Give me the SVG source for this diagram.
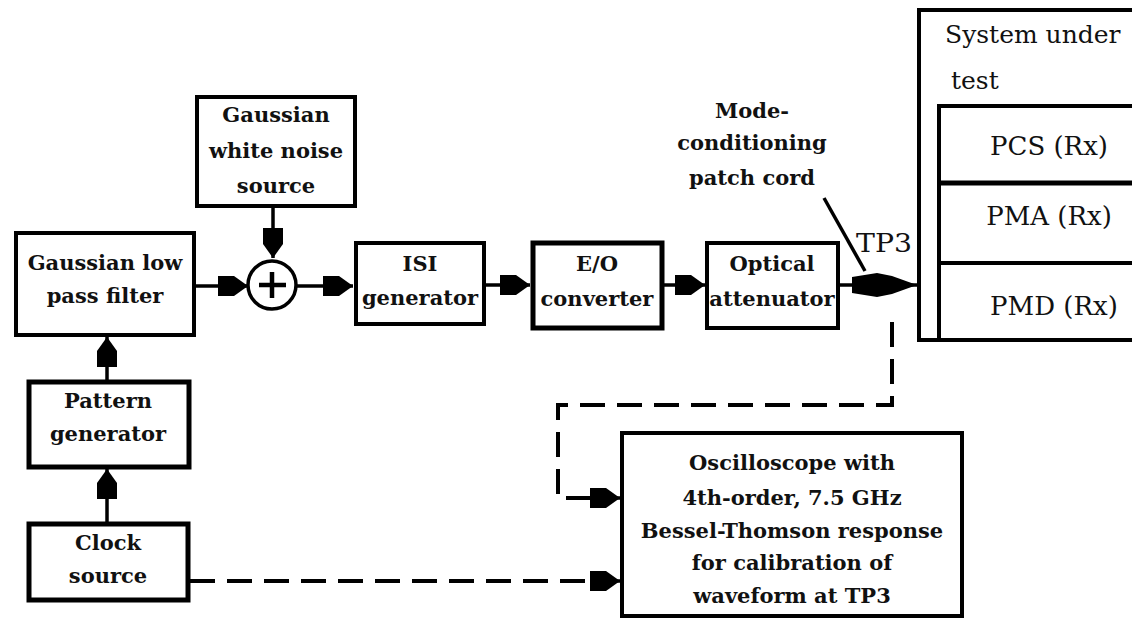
<svg xmlns="http://www.w3.org/2000/svg" width="1132" height="618" viewBox="0 0 1132 618">
<style>
.box{fill:#fff;stroke:#000;stroke-width:4}
.thick{stroke-width:5}
.lbl{font-family:'DejaVu Serif',serif;font-weight:bold;font-size:21px;fill:#111;text-anchor:middle}
.reg{font-family:'DejaVu Serif',serif;font-size:26px;fill:#111}
.sm{font-size:25px}
.ln{fill:none;stroke:#000;stroke-width:3.5}
.dash{fill:none;stroke:#000;stroke-width:4;stroke-dasharray:25 12}
</style>
<defs>
<marker id="ah" markerUnits="userSpaceOnUse" markerWidth="34" markerHeight="24" viewBox="-31 -12 34 24" refX="0" refY="0" orient="auto">
<path d="M-30,-10 L-14,-10 L0,0 L-14,10 L-30,10 Z" fill="#000"/>
</marker>
<marker id="ahbig" markerUnits="userSpaceOnUse" markerWidth="70" markerHeight="30" viewBox="-66 -14 70 28" refX="0" refY="0" orient="auto">
<path d="M-65,-8 L-40,-12 L-25,-9 L0,0 L-25,9 L-40,12 L-65,8 Z" fill="#000"/>
</marker>
</defs>
<rect width="1132" height="618" fill="#fff"/>

<g id="connectors">
<line class="ln" x1="273" y1="206" x2="273" y2="258" marker-end="url(#ah)"/>
<line class="ln" x1="195" y1="286" x2="248" y2="286" marker-end="url(#ah)"/>
<line class="ln" x1="297" y1="286" x2="353" y2="286" marker-end="url(#ah)"/>
<line class="ln" x1="484" y1="285" x2="530" y2="285" marker-end="url(#ah)"/>
<line class="ln" x1="662" y1="285" x2="705" y2="285" marker-end="url(#ah)"/>
<line class="ln" x1="838" y1="285" x2="917" y2="285" marker-end="url(#ahbig)"/>
<line class="ln" x1="107" y1="382" x2="107" y2="337" marker-end="url(#ah)"/>
<line class="ln" x1="107" y1="524" x2="107" y2="469" marker-end="url(#ah)"/>
<line class="ln" x1="824" y1="198" x2="865" y2="271" stroke-width="3"/>
<path class="dash" d="M892,322 L892,405 L558,405 L558,498 L592,498"/>
<line class="ln" x1="592" y1="498" x2="620" y2="498" marker-end="url(#ah)"/>
<path class="dash" d="M190,581 L592,581"/>
<line class="ln" x1="592" y1="581" x2="620" y2="581" marker-end="url(#ah)"/>
</g>

<g id="noise">
<rect class="box" x="197" y="97" width="158" height="109"/>
<text class="lbl" x="276" y="122">Gaussian</text>
<text class="lbl" x="276" y="158">white noise</text>
<text class="lbl" x="276" y="193">source</text>
</g>

<g id="filter">
<rect class="box" x="16" y="233" width="178" height="102" stroke-width="3.5"/>
<text class="lbl" x="105" y="270">Gaussian low</text>
<text class="lbl" x="105" y="303">pass filter</text>
</g>

<g id="summer">
<circle cx="272" cy="285" r="24" fill="#fff" stroke="#000" stroke-width="3.5"/>
<path d="M259,285 H286 M272,272 V298" stroke="#000" stroke-width="4.5" fill="none"/>
</g>

<g id="isi">
<rect class="box" x="356" y="243" width="128" height="81" stroke-width="3.5"/>
<text class="lbl" x="420" y="271">ISI</text>
<text class="lbl" x="420" y="305">generator</text>
</g>

<g id="eo">
<rect class="box thick" x="533" y="243" width="129" height="85"/>
<text class="lbl" x="597" y="271">E/O</text>
<text class="lbl" x="597" y="306">converter</text>
</g>

<g id="attenuator">
<rect class="box" x="707" y="243" width="131" height="85"/>
<text class="lbl" x="772" y="271">Optical</text>
<text class="lbl" x="772" y="306">attenuator</text>
</g>

<g id="patchcord">
<text class="lbl" x="752" y="118">Mode-</text>
<text class="lbl" x="752" y="150">conditioning</text>
<text class="lbl" x="752" y="185">patch cord</text>
<text class="reg" x="856" y="252" textLength="56" lengthAdjust="spacingAndGlyphs">TP3</text>
</g>

<g id="sut">
<path d="M1140,10 H919 V340 H1140" fill="#fff" stroke="#000" stroke-width="4"/>
<path d="M1140,106 H939 V340" fill="none" stroke="#000" stroke-width="4"/>
<line x1="939" y1="183" x2="1140" y2="183" stroke="#000" stroke-width="5"/>
<line x1="939" y1="263" x2="1140" y2="263" stroke="#000" stroke-width="4"/>
<text class="reg sm" x="945" y="43">System under</text>
<text class="reg sm" x="951" y="89">test</text>
<text class="reg" x="1049" y="155" text-anchor="middle">PCS (Rx)</text>
<text class="reg" x="1049" y="225" text-anchor="middle">PMA (Rx)</text>
<text class="reg" x="1054" y="315" text-anchor="middle">PMD (Rx)</text>
</g>

<g id="pattern">
<rect class="box thick" x="29" y="382" width="160" height="85"/>
<text class="lbl" x="108" y="408">Pattern</text>
<text class="lbl" x="108" y="441">generator</text>
</g>

<g id="clock">
<rect class="box thick" x="29" y="524" width="159" height="76"/>
<text class="lbl" x="108" y="550">Clock</text>
<text class="lbl" x="108" y="583">source</text>
</g>

<g id="oscilloscope">
<rect class="box" x="622" y="433" width="340" height="183"/>
<text class="lbl" x="792" y="470">Oscilloscope with</text>
<text class="lbl" x="792" y="505">4th-order, 7.5 GHz</text>
<text class="lbl" x="792" y="538">Bessel-Thomson response</text>
<text class="lbl" x="792" y="570">for calibration of</text>
<text class="lbl" x="792" y="603">waveform at TP3</text>
</g>
</svg>
